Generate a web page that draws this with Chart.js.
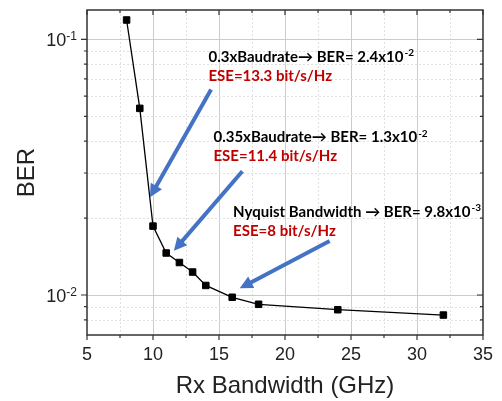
<!DOCTYPE html>
<html>
<head>
<meta charset="utf-8">
<script src="https://cdn.jsdelivr.net/npm/chart.js@4.4.1/dist/chart.umd.min.js"></script>
<style>
  html, body { margin: 0; padding: 0; background: #fff; }
</style>
</head>
<body>
<canvas id="myChart" width="502" height="401"></canvas>
<script>
    // measured BER vs receiver bandwidth
    const bandwidth = [8, 9, 10, 11, 12, 13, 14, 16, 18, 24, 32];
    const ber = [0.119, 0.0537, 0.0186, 0.0146, 0.0134, 0.0123, 0.0109, 0.0098, 0.0092, 0.00876, 0.00835];

    const xTickLabels = [5, 10, 15, 20, 25, 30, 35];
    const yTickValues = [0.008, 0.009, 0.01, 0.02, 0.03, 0.04, 0.05, 0.06, 0.07, 0.08, 0.09, 0.1];
    const yMajor = [0.01, 0.1];
    const yMajorExp = ['-2', '-1'];

    // annotation texts
    const noteHead = ['0.3xBaudrate\u2192 BER= 2.4x10', '0.35xBaudrate\u2192 BER= 1.3x10', 'Nyquist Bandwidth \u2192 BER= 9.8x10'];
    const noteExp = ['-2', '-2', '-3'];
    const noteEse = ['ESE=13.3 bit/s/Hz', 'ESE=11.4 bit/s/Hz', 'ESE=8 bit/s/Hz'];

    // where the notes and arrows sit (data coords)
    const noteAt = [[14.2, 0.0818], [14.58, 0.03956], [16.07, 0.02024]];
    const arrowFrom = [[14.4, 0.0637], [16.77, 0.0305], [23.38, 0.01626]];
    const arrowTo = [[9.77, 0.0241], [11.58, 0.0149], [16.57, 0.01062]];

    const AXIS_FONT = 'Liberation Sans, Arial, sans-serif';
    const NOTE_FONT = 'Lato, sans-serif';

    function drawSupText(ctx, x, y, base, exp, size, bold, color) {
        const w = bold ? 'bold ' : '';
        ctx.fillStyle = color;
        ctx.textAlign = 'left';
        ctx.textBaseline = 'alphabetic';
        ctx.font = w + size + 'px ' + NOTE_FONT;
        ctx.fillText(base, x, y);
        const bw = ctx.measureText(base).width;
        ctx.font = w + Math.round(size * 0.66) + 'px ' + NOTE_FONT;
        ctx.fillText(exp, x + bw + 1, y - size * 0.38);
    }

    const framePlugin = {
        id: 'frame',
        beforeDatasetsDraw(chart) {
            const {ctx, chartArea: a, scales: {x, y}} = chart;
            ctx.save();
            ctx.lineWidth = 1;
            x.ticks.forEach(t => {
                if (t.value <= x.min || t.value >= x.max) return;
                const px = Math.round(x.getPixelForValue(t.value)) + 0.5;
                const major = t.value % 5 === 0;
                ctx.strokeStyle = major ? '#cccccc' : '#e0e0e0';
                ctx.setLineDash(major ? [] : [2, 2]);
                ctx.beginPath();
                ctx.moveTo(px, a.top);
                ctx.lineTo(px, a.bottom);
                ctx.stroke();
            });
            yTickValues.forEach(v => {
                const py = Math.round(y.getPixelForValue(v)) + 0.5;
                const major = yMajor.includes(v);
                ctx.strokeStyle = major ? '#cccccc' : '#e0e0e0';
                ctx.setLineDash(major ? [] : [2, 2]);
                ctx.beginPath();
                ctx.moveTo(a.left, py);
                ctx.lineTo(a.right, py);
                ctx.stroke();
            });
            ctx.restore();
        },
        afterDatasetsDraw(chart) {
            const {ctx, scales: {x, y}} = chart;
            ctx.save();
            // arrows
            for (let i = 0; i < arrowFrom.length; i++) {
                const x0 = x.getPixelForValue(arrowFrom[i][0]), y0 = y.getPixelForValue(arrowFrom[i][1]);
                const x1 = x.getPixelForValue(arrowTo[i][0]), y1 = y.getPixelForValue(arrowTo[i][1]);
                const ang = Math.atan2(y1 - y0, x1 - x0);
                const head = 13, half = 6.5;
                const bx = x1 - head * Math.cos(ang), by = y1 - head * Math.sin(ang);
                ctx.strokeStyle = '#4472C4';
                ctx.fillStyle = '#4472C4';
                ctx.lineWidth = 4;
                ctx.lineCap = 'butt';
                ctx.beginPath();
                ctx.moveTo(x0, y0);
                ctx.lineTo(bx + 2 * Math.cos(ang), by + 2 * Math.sin(ang));
                ctx.stroke();
                ctx.beginPath();
                ctx.moveTo(x1, y1);
                ctx.lineTo(bx + half * Math.sin(ang), by - half * Math.cos(ang));
                ctx.lineTo(bx - half * Math.sin(ang), by + half * Math.cos(ang));
                ctx.closePath();
                ctx.fill();
            }
            // notes
            for (let i = 0; i < noteHead.length; i++) {
                const px = x.getPixelForValue(noteAt[i][0]);
                const py = y.getPixelForValue(noteAt[i][1]);
                drawSupText(ctx, px, py, noteHead[i], noteExp[i], 15, true, '#000');
                ctx.font = 'bold 15px ' + NOTE_FONT;
                ctx.fillStyle = '#C00000';
                ctx.fillText(noteEse[i], px, py + 19);
            }
            ctx.restore();
        },
        afterDraw(chart) {
            const {ctx, chartArea: a, scales: {x, y}} = chart;
            ctx.save();
            ctx.strokeStyle = '#333';
            ctx.lineWidth = 1.5;
            ctx.strokeRect(a.left, a.top, a.right - a.left, a.bottom - a.top);
            ctx.lineWidth = 1.2;
            ctx.beginPath();
            x.ticks.forEach(t => {
                const px = x.getPixelForValue(t.value);
                const len = t.value % 5 === 0 ? 5 : 3;
                ctx.moveTo(px, a.bottom); ctx.lineTo(px, a.bottom + len);
                ctx.moveTo(px, a.top); ctx.lineTo(px, a.top + len);
            });
            yTickValues.forEach(v => {
                const py = y.getPixelForValue(v);
                const len = yMajor.includes(v) ? 6 : 3;
                ctx.moveTo(a.left, py); ctx.lineTo(a.left - len, py);
                ctx.moveTo(a.right, py); ctx.lineTo(a.right - len, py);
            });
            ctx.stroke();
            // y tick labels with exponent
            ctx.fillStyle = '#222';
            ctx.textBaseline = 'alphabetic';
            ctx.textAlign = 'right';
            yMajor.forEach((v, i) => {
                const py = y.getPixelForValue(v);
                const right = a.left - 10;
                ctx.font = '12px ' + AXIS_FONT;
                ctx.fillText(yMajorExp[i], right, py + 1);
                const ew = ctx.measureText(yMajorExp[i]).width;
                ctx.font = '18px ' + AXIS_FONT;
                ctx.fillText('10', right - ew, py + 7);
            });
            ctx.restore();
        }
    };

    const data = {
        datasets: [{
            label: 'BER',
            data: bandwidth.map((b, i) => ({x: b, y: ber[i]})),
            borderColor: '#000',
            backgroundColor: '#000',
            borderWidth: 1.3,
            pointStyle: 'rect',
            pointRadius: 4.6,
            pointBorderWidth: 1,
            tension: 0
        }]
    };

    const config = {
        type: 'line',
        data: data,
        plugins: [framePlugin],
        options: {
            responsive: false,
            animation: false,
            layout: { padding: { left: 0, right: 13, top: 10, bottom: 0 } },
            plugins: { legend: { display: false }, tooltip: { enabled: false } },
            scales: {
                x: {
                    type: 'linear',
                    min: 5,
                    max: 35,
                    afterFit: s => { s.height = 66; },
                    grid: { display: false, drawTicks: false },
                    border: { display: false },
                    ticks: {
                        stepSize: 2.5,
                        autoSkip: false,
                        maxRotation: 0,
                        padding: 9,
                        color: '#222',
                        font: { family: AXIS_FONT, size: 18 },
                        callback: v => xTickLabels.includes(v) ? String(v) : ''
                    },
                    title: {
                        display: true,
                        text: 'Rx Bandwidth (GHz)',
                        color: '#222',
                        font: { family: AXIS_FONT, size: 24 },
                        padding: { top: 0, bottom: 0 }
                    }
                },
                y: {
                    type: 'logarithmic',
                    min: 0.006977,
                    max: 0.1302,
                    afterBuildTicks: s => { s.ticks = yTickValues.map(v => ({value: v})); },
                    afterFit: s => { s.width = 87; },
                    grid: { display: false, drawTicks: false },
                    border: { display: false },
                    ticks: { display: false },
                    title: {
                        display: true,
                        text: 'BER',
                        color: '#222',
                        font: { family: AXIS_FONT, size: 24 },
                        padding: { top: 13, bottom: 0 }
                    }
                }
            }
        }
    };

    const myChart = new Chart(
        document.getElementById('myChart'),
        config
    );
</script>
</body>
</html>
